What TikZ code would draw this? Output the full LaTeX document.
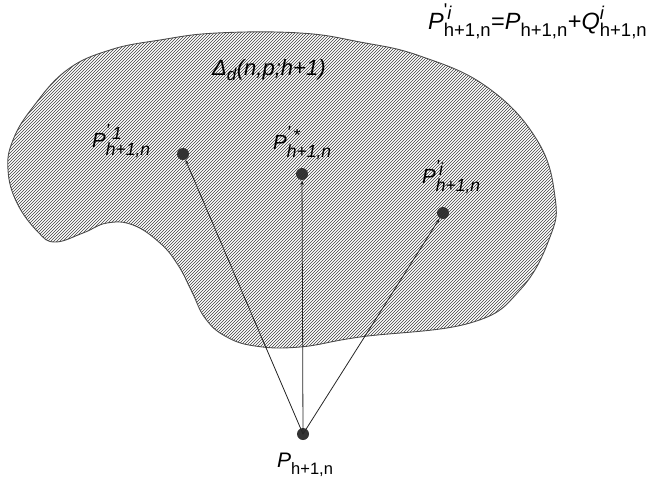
\documentclass[tikz,border=0pt]{standalone}
\usepackage{amsmath}
\usepackage{fontspec}
\setmainfont{Liberation Sans}
\usetikzlibrary{
  arrows.meta
}
\DeclareMathSizes{23.5}{23.5}{18.5}{14}
\DeclareMathSizes{21}{21}{16.5}{12}
\DeclareMathSizes{20.5}{20.5}{17.5}{12}
\DeclareMathSizes{22}{22}{17}{12}
\newcommand\sym[3]{\text{\itshape #1}^{\vphantom{i}\text{#2}}_{\text{#3}}}
\newcommand\prm{\raisebox{0.15em}{\textquotesingle}}
\newcommand\blobpath{plot[smooth cycle, tension=0.7] coordinates {
  (217,33) (300,33) (360,42) (420,56) (487,87) (537,140) (555,197)
  (550,237) (520,290) (470,323) (360,337) (300,347) (255,346)
  (225,336) (205,318) (192,292) (178,265) (160,243) (133,225)
  (107,223) (83,233) (55,242) (38,232) (17,203) (8,170) (13,140)
  (33,107) (67,70) (110,50) (160,40)}}
\tikzset{
  >={Stealth[length=5pt,width=3.2pt]},
  line cap=round,
  line join=round,
  point/.style={circle, fill=black!80, inner sep=0pt, minimum size=12pt},
  arrow/.style={->, line width=0.8pt, black!85},
  hatch/.style={line width=0.5pt, black!75, line cap=butt},
  region/.style={draw=black!70, line width=0.9pt},
  biglabel/.style={inner sep=0pt, anchor=base west, font=\fontsize{23.5}{28}\selectfont},
  smalllabel/.style={inner sep=0pt, anchor=base west, font=\fontsize{20.5}{24}\selectfont\itshape}
}

\begin{document}
\begin{tikzpicture}[x=1pt,y=-1pt]
\useasboundingbox (0,0) rectangle (650,482);

% 영역 (빗금)
\begin{scope}
  \clip \blobpath;
  \foreach \k in {0,3,...,900}
    \draw[hatch] (\k-340,350) -- ++(330,-330);
\end{scope}
\draw[region] \blobpath;

% 레이블
\node[biglabel] (eq) at (428,29)
  {$\sym{P}{\prm\itshape i}{h+1,n}\text{=}\sym{P}{}{h+1,n}\text{+}\sym{Q}{\itshape i}{h+1,n}$};
\node[smalllabel, font=\fontsize{22}{26}\selectfont\itshape] (delta) at (212,75) {Δ$_{\text{d}}$(n,p;h+1)};
\node[smalllabel] (lP1) at (92,147) {$\sym{P}{\prm\,1}{h+1,n}$};
\node[smalllabel] (lPs) at (273,149) {$\sym{P}{\prm\,*}{h+1,n}$};
\node[smalllabel] (lPi) at (422,183) {$\sym{P}{\prm i}{h+1,n}$};
\node[biglabel, font=\fontsize{21}{26}\selectfont] (lP0) at (277,467) {$\sym{P}{}{h+1,n}$};

% 점
\node[point] (P1) at (183,154) {};
\node[point] (Ps) at (302,174) {};
\node[point] (Pi) at (443,213) {};
\node[point] (P0) at (303,434) {};

% 벡터
\draw[arrow] (P0.center) -- (P1);
\draw[arrow] (P0.center) -- (Ps);
\draw[arrow] (P0.center) -- (Pi);

\end{tikzpicture}
\end{document}
